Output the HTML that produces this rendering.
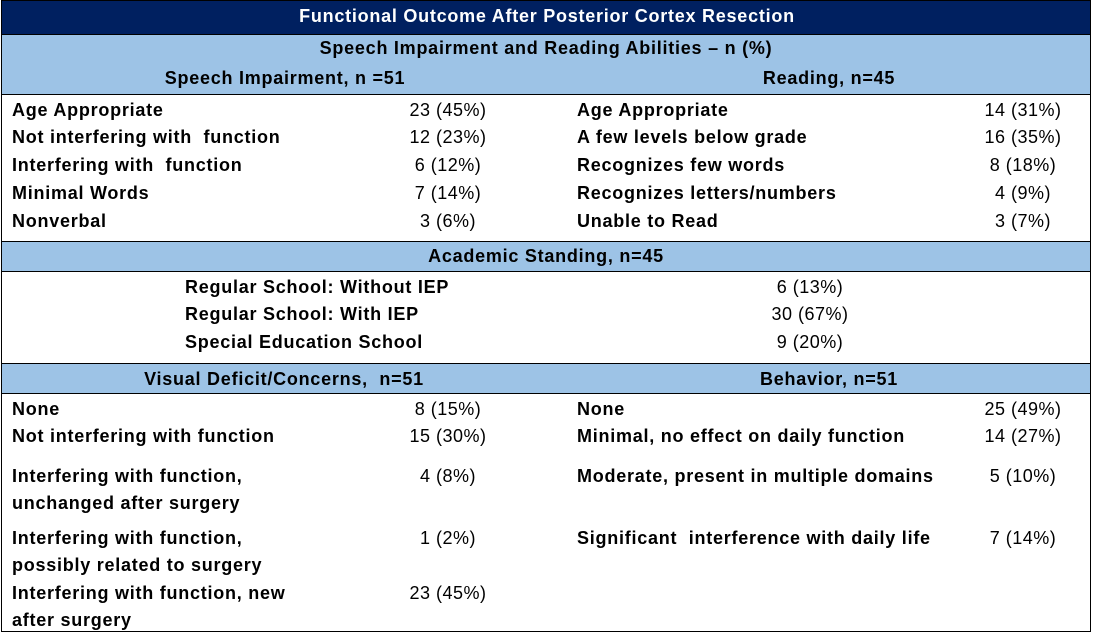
<!DOCTYPE html>
<html>
<head>
<meta charset="utf-8">
<style>
html,body{margin:0;padding:0;background:#fff;}
body{width:1094px;height:636px;position:relative;overflow:hidden;font-family:"Liberation Sans",Arial,sans-serif;}
.box{position:absolute;left:1px;top:0;width:1088px;height:630px;border:1px solid #000;}
.bg{position:absolute;left:2px;width:1088px;}
.hl{position:absolute;left:1px;width:1090px;height:1px;background:#000;}
.t{position:absolute;font-size:18px;line-height:20px;white-space:pre;color:#000;}
.b{font-weight:bold;letter-spacing:0.75px;}
.v{letter-spacing:0.5px;text-align:center;width:200px;}
.c{text-align:center;width:600px;}
</style>
</head>
<body>
<div class="bg" style="top:1px;height:33px;background:#002060;"></div>
<div class="bg" style="top:35px;height:59px;background:#9DC3E6;"></div>
<div class="bg" style="top:242px;height:29px;background:#9DC3E6;"></div>
<div class="bg" style="top:364px;height:29px;background:#9DC3E6;"></div>
<div class="box"></div>
<div class="hl" style="top:34px;"></div>
<div class="hl" style="top:94px;"></div>
<div class="hl" style="top:241px;"></div>
<div class="hl" style="top:271px;"></div>
<div class="hl" style="top:363px;"></div>
<div class="hl" style="top:393px;"></div>

<div class="t b c" style="left:247px;top:6px;color:#fff;">Functional Outcome After Posterior Cortex Resection</div>
<div class="t b c" style="left:246px;top:38px;">Speech Impairment and Reading Abilities – n (%)</div>
<div class="t b c" style="left:-15px;top:68px;">Speech Impairment, n =51</div>
<div class="t b c" style="left:529px;top:68px;">Reading, n=45</div>

<div class="t b" style="left:12px;top:100px;">Age Appropriate</div>
<div class="t b" style="left:12px;top:127px;">Not interfering with  function</div>
<div class="t b" style="left:12px;top:155px;">Interfering with  function</div>
<div class="t b" style="left:12px;top:183px;">Minimal Words</div>
<div class="t b" style="left:12px;top:211px;">Nonverbal</div>

<div class="t v" style="left:348px;top:100px;">23 (45%)</div>
<div class="t v" style="left:348px;top:127px;">12 (23%)</div>
<div class="t v" style="left:348px;top:155px;">6 (12%)</div>
<div class="t v" style="left:348px;top:183px;">7 (14%)</div>
<div class="t v" style="left:348px;top:211px;">3 (6%)</div>

<div class="t b" style="left:577px;top:100px;">Age Appropriate</div>
<div class="t b" style="left:577px;top:127px;">A few levels below grade</div>
<div class="t b" style="left:577px;top:155px;">Recognizes few words</div>
<div class="t b" style="left:577px;top:183px;">Recognizes letters/numbers</div>
<div class="t b" style="left:577px;top:211px;">Unable to Read</div>

<div class="t v" style="left:923px;top:100px;">14 (31%)</div>
<div class="t v" style="left:923px;top:127px;">16 (35%)</div>
<div class="t v" style="left:923px;top:155px;">8 (18%)</div>
<div class="t v" style="left:923px;top:183px;">4 (9%)</div>
<div class="t v" style="left:923px;top:211px;">3 (7%)</div>

<div class="t b c" style="left:246px;top:246px;">Academic Standing, n=45</div>
<div class="t b" style="left:185px;top:277px;">Regular School: Without IEP</div>
<div class="t b" style="left:185px;top:304px;">Regular School: With IEP</div>
<div class="t b" style="left:185px;top:332px;">Special Education School</div>
<div class="t v" style="left:710px;top:277px;">6 (13%)</div>
<div class="t v" style="left:710px;top:304px;">30 (67%)</div>
<div class="t v" style="left:710px;top:332px;">9 (20%)</div>

<div class="t b c" style="left:-16px;top:369px;">Visual Deficit/Concerns,  n=51</div>
<div class="t b c" style="left:529px;top:369px;">Behavior, n=51</div>

<div class="t b" style="left:12px;top:399px;">None</div>
<div class="t b" style="left:12px;top:426px;">Not interfering with function</div>
<div class="t b" style="left:12px;top:466px;">Interfering with function,</div>
<div class="t b" style="left:12px;top:493px;">unchanged after surgery</div>
<div class="t b" style="left:12px;top:528px;">Interfering with function,</div>
<div class="t b" style="left:12px;top:555px;">possibly related to surgery</div>
<div class="t b" style="left:12px;top:583px;">Interfering with function, new</div>
<div class="t b" style="left:12px;top:610px;">after surgery</div>

<div class="t v" style="left:348px;top:399px;">8 (15%)</div>
<div class="t v" style="left:348px;top:426px;">15 (30%)</div>
<div class="t v" style="left:348px;top:466px;">4 (8%)</div>
<div class="t v" style="left:348px;top:528px;">1 (2%)</div>
<div class="t v" style="left:348px;top:583px;">23 (45%)</div>

<div class="t b" style="left:577px;top:399px;">None</div>
<div class="t b" style="left:577px;top:426px;">Minimal, no effect on daily function</div>
<div class="t b" style="left:577px;top:466px;">Moderate, present in multiple domains</div>
<div class="t b" style="left:577px;top:528px;">Significant  interference with daily life</div>

<div class="t v" style="left:923px;top:399px;">25 (49%)</div>
<div class="t v" style="left:923px;top:426px;">14 (27%)</div>
<div class="t v" style="left:923px;top:466px;">5 (10%)</div>
<div class="t v" style="left:923px;top:528px;">7 (14%)</div>
</body>
</html>
